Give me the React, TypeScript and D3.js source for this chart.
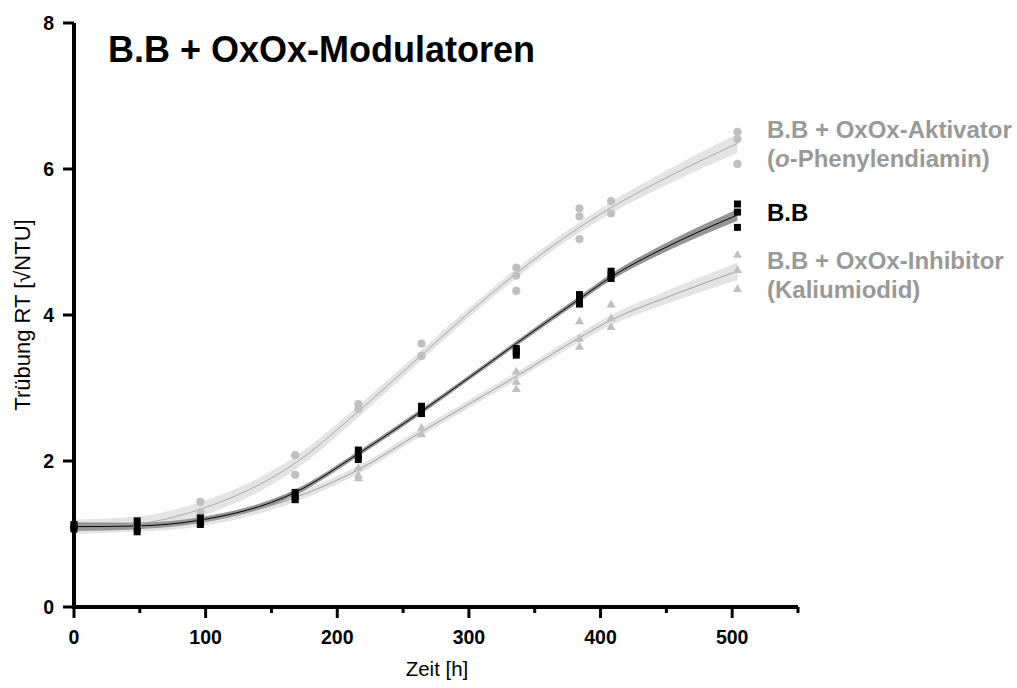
import React from 'react';
import * as d3 from 'd3';

// Measurement times [h]
const times = [0, 48, 96, 168, 216, 264, 336, 384, 408, 504];

// Replicate measurements (√NTU)
const activatorValues = [
  [1.12, 1.1, 1.08],
  [1.13, 1.1, 1.08],
  [1.44, 1.3, 1.25],
  [2.08, 1.81],
  [2.78, 2.71],
  [3.61, 3.44],
  [4.65, 4.54, 4.33],
  [5.46, 5.35, 5.04],
  [5.56, 5.39],
  [6.51, 6.41, 6.07],
];
const bbValues = [
  [1.13, 1.1, 1.07],
  [1.18, 1.1, 1.03],
  [1.22, 1.17, 1.13],
  [1.57, 1.52, 1.47],
  [2.15, 2.08, 2.02],
  [2.75, 2.7, 2.65],
  [3.54, 3.5, 3.45],
  [4.28, 4.21, 4.15],
  [4.6, 4.55, 4.5],
  [5.52, 5.41, 5.2],
];
const inhibitorValues = [
  [1.12, 1.09, 1.07],
  [1.12, 1.09, 1.06],
  [1.22, 1.18, 1.15],
  [1.55, 1.5, 1.47],
  [1.9, 1.8, 1.76],
  [2.45, 2.36],
  [3.22, 3.08, 2.98],
  [3.91, 3.67, 3.56],
  [4.14, 3.95, 3.83],
  [4.82, 4.61, 4.35],
];

// Fitted curves
const fitTimes = [0, 48, 96, 168, 216, 264, 300, 336, 384, 408, 450, 504];
const activatorFit = [1.1, 1.14, 1.34, 1.97, 2.68, 3.45, 4.03, 4.57, 5.2, 5.47, 5.88, 6.35];
const bbFit = [1.1, 1.11, 1.19, 1.57, 2.1, 2.68, 3.14, 3.61, 4.22, 4.52, 4.93, 5.37];
const inhibitorFit = [1.1, 1.1, 1.17, 1.5, 1.88, 2.4, 2.78, 3.16, 3.69, 3.93, 4.24, 4.6];
// Confidence band half-widths
const activatorCI = [0.1, 0.1, 0.1, 0.09, 0.08, 0.07, 0.065, 0.065, 0.07, 0.08, 0.1, 0.13];
const bbCI = [0.06, 0.045, 0.04, 0.04, 0.035, 0.035, 0.035, 0.035, 0.04, 0.045, 0.06, 0.08];
const inhibitorCI = [0.08, 0.07, 0.065, 0.06, 0.055, 0.055, 0.055, 0.055, 0.06, 0.07, 0.09, 0.12];

const xMajorTicks = [0, 100, 200, 300, 400, 500];
const xMinorTicks = [50, 150, 250, 350, 450, 550];
const yTicks = [0, 2, 4, 6, 8];

const FONT = '"Liberation Sans", Arial, Helvetica, sans-serif';

export default function App() {
  const W = 1017;
  const H = 688;
  const x = d3.scaleLinear().domain([0, 550]).range([74, 798]);
  const y = d3.scaleLinear().domain([0, 8]).range([607, 23]);

  const line = d3
    .line<[number, number]>()
    .x((d) => x(d[0]))
    .y((d) => y(d[1]))
    .curve(d3.curveMonotoneX);
  const area = d3
    .area<[number, number, number]>()
    .x((d) => x(d[0]))
    .y0((d) => y(d[1] - d[2]))
    .y1((d) => y(d[1] + d[2]))
    .curve(d3.curveMonotoneX);

  const fitPts = (vals: number[]) => fitTimes.map((t, i) => [t, vals[i]] as [number, number]);
  const bandPts = (vals: number[], ci: number[]) =>
    fitTimes.map((t, i) => [t, vals[i], ci[i]] as [number, number, number]);

  const flat = (vals: number[][]) =>
    vals.flatMap((arr, i) => arr.map((v) => [times[i], v] as [number, number]));

  const circle = d3.symbol().type(d3.symbolCircle).size(52)()!;
  const square = d3.symbol().type(d3.symbolSquare).size(49)()!;
  const triangle = d3.symbol().type(d3.symbolTriangle).size(36)()!;

  return (
    <div style={{ position: 'absolute', left: 0, top: 0 }}>
      <svg width={W} height={H} style={{ display: 'block', background: '#fff' }}>
        {/* Bands */}
        <path d={area(bandPts(activatorFit, activatorCI))!} fill="#e4e4e4" />
        <path d={area(bandPts(inhibitorFit, inhibitorCI))!} fill="#e4e4e4" />
        <path d={area(bandPts(bbFit, bbCI))!} fill="#959595" />
        {/* Fit lines */}
        <path d={line(fitPts(activatorFit))!} fill="none" stroke="#a8a8a8" strokeWidth={1} />
        <path d={line(fitPts(inhibitorFit))!} fill="none" stroke="#a0a0a0" strokeWidth={1} />
        <path d={line(fitPts(bbFit))!} fill="none" stroke="#000" strokeWidth={1} />
        {/* Markers */}
        {flat(activatorValues).map((d, i) => (
          <path key={'a' + i} d={circle} transform={`translate(${x(d[0])},${y(d[1])})`} fill="#c0c0c0" />
        ))}
        {flat(inhibitorValues).map((d, i) => (
          <path key={'i' + i} d={triangle} transform={`translate(${x(d[0])},${y(d[1])})`} fill="#c0c0c0" />
        ))}
        {flat(bbValues).map((d, i) => (
          <path key={'b' + i} d={square} transform={`translate(${x(d[0])},${y(d[1])})`} fill="#000" />
        ))}

        {/* Axes */}
        <line x1={x(0)} x2={x(0)} y1={y(8)} y2={y(0) + 2} stroke="#000" strokeWidth={4} />
        <line x1={x(0) - 2} x2={x(550)} y1={y(0)} y2={y(0)} stroke="#000" strokeWidth={4} />
        {yTicks.map((t) => (
          <g key={'yt' + t}>
            <line x1={x(0) - 11} x2={x(0)} y1={y(t)} y2={y(t)} stroke="#000" strokeWidth={3} />
            <text
              x={54}
              y={y(t) + 7}
              textAnchor="end"
              fontFamily={FONT}
              fontWeight="bold"
              fontSize={19.5}
              fill="#000"
            >
              {t}
            </text>
          </g>
        ))}
        {xMajorTicks.map((t) => (
          <g key={'xt' + t}>
            <line x1={x(t)} x2={x(t)} y1={y(0)} y2={y(0) + 11} stroke="#000" strokeWidth={3} />
            <text
              x={x(t)}
              y={644}
              textAnchor="middle"
              fontFamily={FONT}
              fontWeight="bold"
              fontSize={19.5}
              fill="#000"
            >
              {t}
            </text>
          </g>
        ))}
        {xMinorTicks.map((t) => (
          <line key={'xm' + t} x1={x(t)} x2={x(t)} y1={y(0)} y2={y(0) + 6} stroke="#000" strokeWidth={3} />
        ))}

        {/* Axis titles */}
        <text x={437} y={676} textAnchor="middle" fontFamily={FONT} fontSize={20.5} fill="#000">
          Zeit [h]
        </text>
        <text
          transform="translate(30,315) rotate(-90)"
          textAnchor="middle"
          fontFamily={FONT}
          fontSize={22}
          fill="#000"
        >
          Trübung RT [√NTU]
        </text>

        {/* Title */}
        <text x={108} y={62} fontFamily={FONT} fontWeight="bold" fontSize={36} fill="#000">
          B.B + OxOx-Modulatoren
        </text>

        {/* Legend */}
        <g fontFamily={FONT} fontWeight="bold" fontSize={24}>
          <text x={767} y={138} fill="#999">
            B.B + OxOx-Aktivator
          </text>
          <text x={767} y={167} fill="#999">
            (<tspan fontStyle="italic">o</tspan>-Phenylendiamin)
          </text>
          <text x={767} y={221} fill="#000">
            B.B
          </text>
          <text x={767} y={269} fill="#999">
            B.B + OxOx-Inhibitor
          </text>
          <text x={767} y={298} fill="#999">
            (Kaliumiodid)
          </text>
        </g>
      </svg>
    </div>
  );
}
